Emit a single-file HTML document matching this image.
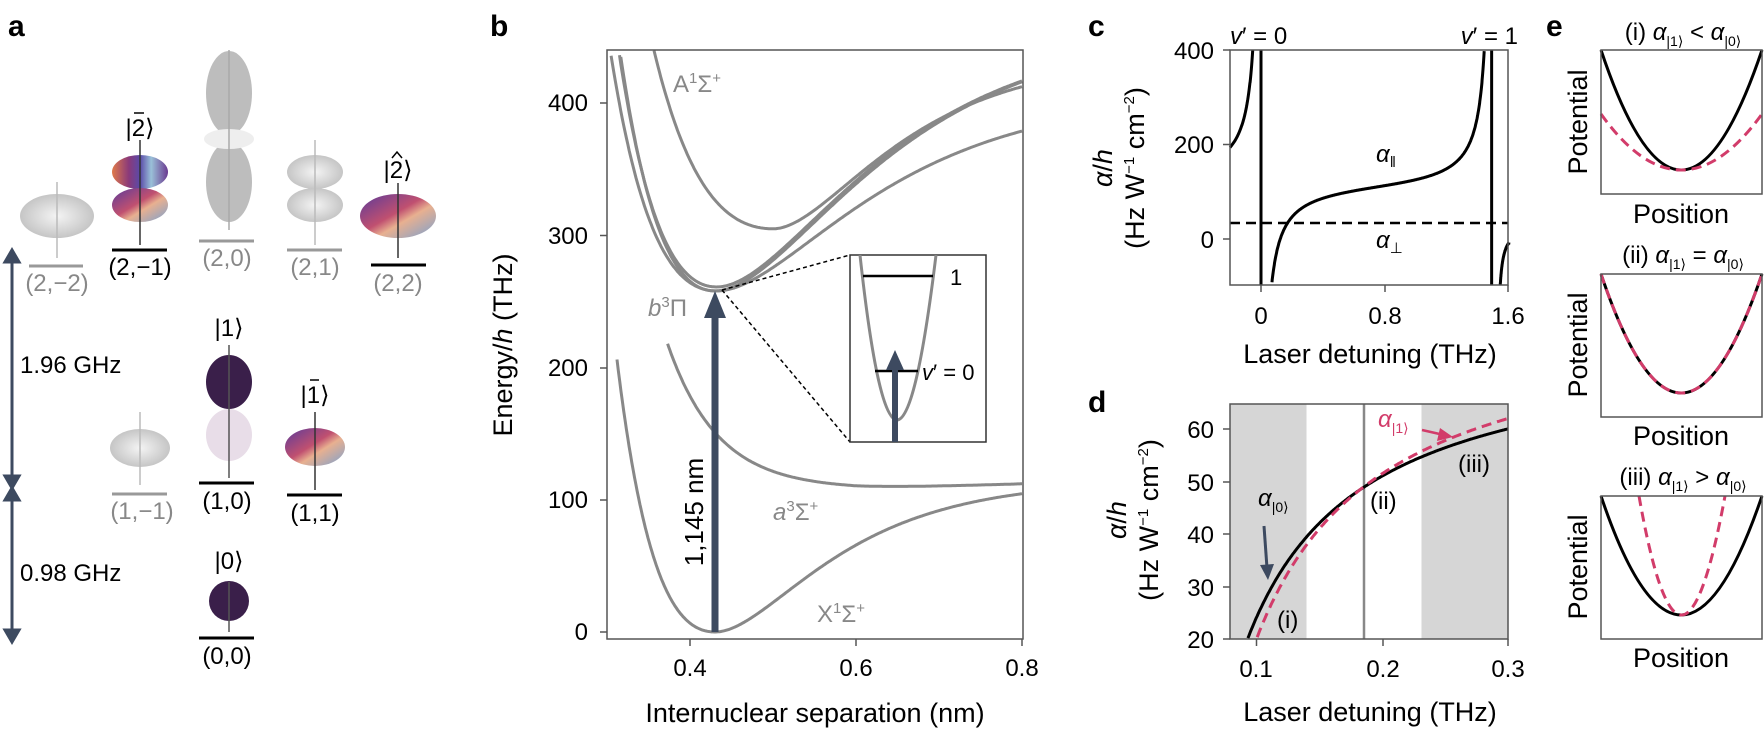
<!DOCTYPE html>
<html><head><meta charset="utf-8"><style>
body{margin:0;background:#fff}
svg{display:block;font-family:"Liberation Sans",sans-serif}
</style></head><body>
<svg id="s" width="1764" height="730" viewBox="0 0 1764 730" xmlns="http://www.w3.org/2000/svg">
<defs>
<linearGradient id="col" x1="0" y1="0" x2="1" y2="0">
<stop offset="0" stop-color="#e07a4a"/><stop offset="0.3" stop-color="#8a3a7a"/><stop offset="0.5" stop-color="#5a4aa8"/><stop offset="0.7" stop-color="#9ac0d8"/><stop offset="1" stop-color="#6a3a90"/></linearGradient>
<linearGradient id="col2" x1="0" y1="0" x2="1" y2="1">
<stop offset="0" stop-color="#5a3a9a"/><stop offset="0.45" stop-color="#c05070"/><stop offset="0.6" stop-color="#e8b090"/><stop offset="1" stop-color="#7aa0d0"/></linearGradient>
<radialGradient id="gr" cx="0.5" cy="0.5" r="0.6"><stop offset="0" stop-color="#f4f4f4"/><stop offset="1" stop-color="#bcbcbc"/></radialGradient>
</defs>
<g font-size="24">
<!-- Panel a -->
<text x="8" y="36" font-size="30" font-weight="bold">a</text>
<g stroke="#3d4a60" stroke-width="3" fill="#3d4a60">
<line x1="12" y1="260" x2="12" y2="478"/><path d="M5,262 L12,250 L19,262 Z"/><path d="M5,476 L12,488 L19,476 Z"/>
<line x1="12" y1="498" x2="12" y2="632"/><path d="M5,500 L12,488 L19,500 Z"/><path d="M5,630 L12,642 L19,630 Z"/>
</g>
<text x="20" y="373">1.96 GHz</text>
<text x="20" y="581">0.98 GHz</text>
<!-- orbitals -->
<ellipse cx="57" cy="216" rx="37" ry="22" fill="url(#gr)"/><line x1="57" y1="182" x2="57" y2="258" stroke="#bbb" stroke-width="1.5"/>
<ellipse cx="140" cy="172" rx="28" ry="17" fill="url(#col)"/><ellipse cx="140" cy="205" rx="28" ry="17" fill="url(#col2)"/><line x1="140" y1="140" x2="140" y2="245" stroke="#333" stroke-width="1.5"/>
<text x="140" y="136" text-anchor="middle">|2⟩</text><line x1="134" y1="113" x2="144" y2="113" stroke="#000" stroke-width="1.5"/>
<ellipse cx="229" cy="93" rx="23" ry="42" fill="#bdbdbd"/><ellipse cx="229" cy="182" rx="23" ry="40" fill="#bdbdbd"/><ellipse cx="229" cy="139" rx="25" ry="10" fill="#eee"/><line x1="229" y1="50" x2="229" y2="230" stroke="#aaa" stroke-width="1.5"/>
<ellipse cx="315" cy="172" rx="28" ry="17" fill="url(#gr)"/><ellipse cx="315" cy="205" rx="28" ry="17" fill="url(#gr)"/><line x1="315" y1="140" x2="315" y2="245" stroke="#bbb" stroke-width="1.5"/>
<ellipse cx="398" cy="216" rx="38" ry="22" fill="url(#col2)"/><line x1="398" y1="183" x2="398" y2="258" stroke="#333" stroke-width="1.5"/>
<text x="398" y="178" text-anchor="middle">|2⟩</text><path d="M392,158 L397,152 L402,158" fill="none" stroke="#000" stroke-width="1.5"/>
<ellipse cx="140" cy="448" rx="30" ry="19" fill="url(#gr)"/><line x1="140" y1="412" x2="140" y2="485" stroke="#bbb" stroke-width="1.5"/>
<ellipse cx="229" cy="382" rx="23" ry="27" fill="#3a1f4a"/><ellipse cx="229" cy="435" rx="23" ry="26" fill="#e8dde8"/><line x1="229" y1="345" x2="229" y2="478" stroke="#555" stroke-width="1.5"/>
<text x="229" y="336" text-anchor="middle">|1⟩</text>
<ellipse cx="315" cy="447" rx="30" ry="19" fill="url(#col2)"/><line x1="315" y1="412" x2="315" y2="490" stroke="#333" stroke-width="1.5"/>
<text x="315" y="403" text-anchor="middle">|1⟩</text><line x1="310" y1="380" x2="319" y2="380" stroke="#000" stroke-width="1.5"/>
<ellipse cx="229" cy="601" rx="20" ry="20" fill="#3a1f4a"/><line x1="229" y1="582" x2="229" y2="632" stroke="#555" stroke-width="1.5"/>
<text x="229" y="569" text-anchor="middle">|0⟩</text>
<!-- levels -->
<g stroke-width="3">
<line x1="29" y1="266" x2="83" y2="266" stroke="#999"/>
<line x1="112" y1="250" x2="167" y2="250" stroke="#000"/>
<line x1="199" y1="241" x2="254" y2="241" stroke="#999"/>
<line x1="287" y1="250" x2="342" y2="250" stroke="#999"/>
<line x1="371" y1="265" x2="426" y2="265" stroke="#000"/>
<line x1="112" y1="494" x2="167" y2="494" stroke="#999"/>
<line x1="199" y1="483" x2="254" y2="483" stroke="#000"/>
<line x1="287" y1="495" x2="342" y2="495" stroke="#000"/>
<line x1="199" y1="638" x2="254" y2="638" stroke="#000"/>
</g>
<g text-anchor="middle">
<text x="57" y="291" fill="#888">(2,−2)</text>
<text x="140" y="275">(2,−1)</text>
<text x="227" y="266" fill="#888">(2,0)</text>
<text x="315" y="275" fill="#888">(2,1)</text>
<text x="398" y="291" fill="#888">(2,2)</text>
<text x="142" y="519" fill="#888">(1,−1)</text>
<text x="227" y="509">(1,0)</text>
<text x="315" y="521">(1,1)</text>
<text x="227" y="664">(0,0)</text>
</g>

<!-- Panel b -->
<text x="490" y="36" font-size="30" font-weight="bold">b</text>
<g id="bcurves" fill="none" stroke="#888" stroke-width="3"></g>
<rect x="607" y="50" width="416" height="589" fill="none" stroke="#555" stroke-width="1.5"/>
<g stroke="#555" stroke-width="1.5">
<line x1="600" y1="103" x2="607" y2="103"/><line x1="600" y1="235.5" x2="607" y2="235.5"/><line x1="600" y1="368" x2="607" y2="368"/><line x1="600" y1="500" x2="607" y2="500"/><line x1="600" y1="632" x2="607" y2="632"/>
<line x1="690" y1="639" x2="690" y2="646"/><line x1="856" y1="639" x2="856" y2="646"/><line x1="1022" y1="639" x2="1022" y2="646"/>
</g>
<g text-anchor="end"><text x="588" y="111">400</text><text x="588" y="244">300</text><text x="588" y="376">200</text><text x="588" y="508">100</text><text x="588" y="640">0</text></g>
<g text-anchor="middle"><text x="690" y="676">0.4</text><text x="856" y="676">0.6</text><text x="1022" y="676">0.8</text></g>
<text x="815" y="722" text-anchor="middle" font-size="27">Internuclear separation (nm)</text>
<text transform="translate(512,345) rotate(-90)" text-anchor="middle" font-size="27">Energy/<tspan font-style="italic">h</tspan> (THz)</text>
<g fill="#888" font-size="24">
<text x="673" y="92">A<tspan font-size="15" dy="-9">1</tspan><tspan dy="9">Σ</tspan><tspan font-size="15" dy="-9">+</tspan></text>
<text x="648" y="316"><tspan font-style="italic">b</tspan><tspan font-size="15" dy="-9">3</tspan><tspan dy="9">Π</tspan></text>
<text x="773" y="520"><tspan font-style="italic">a</tspan><tspan font-size="15" dy="-9">3</tspan><tspan dy="9">Σ</tspan><tspan font-size="15" dy="-9">+</tspan></text>
<text x="817" y="622">X<tspan font-size="15" dy="-9">1</tspan><tspan dy="9">Σ</tspan><tspan font-size="15" dy="-9">+</tspan></text>
</g>
<line x1="715" y1="632" x2="715" y2="310" stroke="#3d4a60" stroke-width="7"/>
<path d="M704,318 L715,291 L726,318 Z" fill="#3d4a60"/>
<text transform="translate(703,512) rotate(-90)" text-anchor="middle" font-size="26">1,145 nm</text>
<g stroke="#000" stroke-width="1.5" stroke-dasharray="4,3"><line x1="722" y1="290" x2="850" y2="255"/><line x1="722" y1="290" x2="850" y2="442"/></g>
<rect x="850" y="255" width="136" height="187" fill="#fff" stroke="#333" stroke-width="1.5"/>
<path d="M860,255 Q896,585 936,255" fill="none" stroke="#888" stroke-width="3"/>
<line x1="863" y1="276" x2="933" y2="276" stroke="#000" stroke-width="2.5"/>
<line x1="875" y1="371" x2="918" y2="371" stroke="#000" stroke-width="2.5"/>
<line x1="895" y1="442" x2="895" y2="365" stroke="#3d4a60" stroke-width="6"/><path d="M886,370 L895,350 L904,370 Z" fill="#3d4a60"/>
<text x="950" y="285" font-size="22">1</text>
<text x="922" y="380" font-size="22"><tspan font-style="italic">v</tspan>′ = 0</text>

<!-- Panel c -->
<text x="1088" y="36" font-size="30" font-weight="bold">c</text>
<g id="ccurves" fill="none" stroke="#000" stroke-width="3"></g>
<line x1="1230" y1="223" x2="1508" y2="223" stroke="#000" stroke-width="2.5" stroke-dasharray="10,6"/>
<rect x="1230" y="50" width="278" height="235" fill="none" stroke="#555" stroke-width="1.5"/>
<g stroke="#555" stroke-width="1.5"><line x1="1223" y1="50" x2="1230" y2="50"/><line x1="1223" y1="144.5" x2="1230" y2="144.5"/><line x1="1223" y1="239" x2="1230" y2="239"/>
<line x1="1261" y1="285" x2="1261" y2="292"/><line x1="1385" y1="285" x2="1385" y2="292"/><line x1="1508" y1="285" x2="1508" y2="292"/></g>
<g text-anchor="end"><text x="1214" y="59">400</text><text x="1214" y="153">200</text><text x="1214" y="248">0</text></g>
<g text-anchor="middle"><text x="1261" y="324">0</text><text x="1385" y="324">0.8</text><text x="1508" y="324">1.6</text></g>
<text x="1370" y="363" text-anchor="middle" font-size="27">Laser detuning (THz)</text>
<text x="1230" y="44"><tspan font-style="italic">v</tspan>′ = 0</text>
<text x="1518" y="44" text-anchor="end"><tspan font-style="italic">v</tspan>′ = 1</text>
<text x="1376" y="162" font-style="italic">α<tspan font-size="15" dy="5" font-style="normal">‖</tspan></text>
<text x="1376" y="248" font-style="italic">α<tspan font-size="15" dy="5" font-style="normal">⊥</tspan></text>
<text transform="translate(1112,168) rotate(-90)" text-anchor="middle" font-size="27"><tspan font-style="italic">α</tspan>/<tspan font-style="italic">h</tspan></text>
<text transform="translate(1144,168) rotate(-90)" text-anchor="middle" font-size="27">(Hz W<tspan font-size="15" dy="-10">−1</tspan><tspan dy="10"> cm</tspan><tspan font-size="15" dy="-10">−2</tspan><tspan dy="10">)</tspan></text>

<!-- Panel d -->
<text x="1088" y="412" font-size="30" font-weight="bold">d</text>
<rect x="1230" y="404" width="76.5" height="235" fill="#d6d6d6"/>
<rect x="1421.5" y="404" width="86.5" height="235" fill="#d6d6d6"/>
<line x1="1364" y1="404" x2="1364" y2="639" stroke="#888" stroke-width="2.5"/>
<g id="dcurves" fill="none" stroke-width="3"></g>
<rect x="1230" y="404" width="278" height="235" fill="none" stroke="#555" stroke-width="1.5"/>
<g stroke="#555" stroke-width="1.5"><line x1="1223" y1="429" x2="1230" y2="429"/><line x1="1223" y1="482" x2="1230" y2="482"/><line x1="1223" y1="534" x2="1230" y2="534"/><line x1="1223" y1="587" x2="1230" y2="587"/><line x1="1223" y1="639" x2="1230" y2="639"/>
<line x1="1256.5" y1="639" x2="1256.5" y2="646"/><line x1="1383" y1="639" x2="1383" y2="646"/><line x1="1508" y1="639" x2="1508" y2="646"/></g>
<g text-anchor="end"><text x="1214" y="438">60</text><text x="1214" y="491">50</text><text x="1214" y="543">40</text><text x="1214" y="596">30</text><text x="1214" y="648">20</text></g>
<g text-anchor="middle"><text x="1256" y="677">0.1</text><text x="1383" y="677">0.2</text><text x="1508" y="677">0.3</text></g>
<text x="1370" y="721" text-anchor="middle" font-size="27">Laser detuning (THz)</text>
<text transform="translate(1126,520) rotate(-90)" text-anchor="middle" font-size="27"><tspan font-style="italic">α</tspan>/<tspan font-style="italic">h</tspan></text>
<text transform="translate(1158,520) rotate(-90)" text-anchor="middle" font-size="27">(Hz W<tspan font-size="15" dy="-10">−1</tspan><tspan dy="10"> cm</tspan><tspan font-size="15" dy="-10">−2</tspan><tspan dy="10">)</tspan></text>
<text x="1378" y="427" fill="#d23c6a" font-style="italic">α<tspan font-size="14" dy="6" font-style="normal">|1⟩</tspan></text>
<line x1="1422" y1="430" x2="1444" y2="435" stroke="#d23c6a" stroke-width="2.5"/><path d="M1440,428 L1453,437 L1437,441 Z" fill="#d23c6a"/>
<text x="1258" y="506" font-style="italic">α<tspan font-size="14" dy="6" font-style="normal">|0⟩</tspan></text>
<line x1="1264" y1="526" x2="1267" y2="568" stroke="#3d4a60" stroke-width="3"/><path d="M1260,565 L1268,580 L1274,564 Z" fill="#3d4a60"/>
<text x="1458" y="472">(iii)</text>
<text x="1370" y="509">(ii)</text>
<text x="1277" y="628">(i)</text>

<!-- Panel e -->
<text x="1546" y="36" font-size="30" font-weight="bold">e</text>
<g font-size="24" text-anchor="middle">
<text x="1683" y="40">(i) <tspan font-style="italic">α</tspan><tspan font-size="14" dy="6">|1⟩</tspan><tspan dy="-6"> &lt; </tspan><tspan font-style="italic">α</tspan><tspan font-size="14" dy="6">|0⟩</tspan></text>
<text x="1683" y="263">(ii) <tspan font-style="italic">α</tspan><tspan font-size="14" dy="6">|1⟩</tspan><tspan dy="-6"> = </tspan><tspan font-style="italic">α</tspan><tspan font-size="14" dy="6">|0⟩</tspan></text>
<text x="1683" y="485">(iii) <tspan font-style="italic">α</tspan><tspan font-size="14" dy="6">|1⟩</tspan><tspan dy="-6"> &gt; </tspan><tspan font-style="italic">α</tspan><tspan font-size="14" dy="6">|0⟩</tspan></text>
</g>
<g font-size="27" text-anchor="middle">
<text x="1681" y="223">Position</text><text x="1681" y="445">Position</text><text x="1681" y="667">Position</text>
<text transform="translate(1587,122) rotate(-90)">Potential</text>
<text transform="translate(1587,345) rotate(-90)">Potential</text>
<text transform="translate(1587,567) rotate(-90)">Potential</text>
</g>
<g fill="none" stroke-width="3">
<path d="M1601,50 Q1681,290 1762,50" stroke="#000"/>
<path d="M1601,114 Q1681,226 1762,114" stroke="#d23c6a" stroke-dasharray="10,6"/>
<path d="M1601,274 Q1681,512 1762,274" stroke="#000"/>
<path d="M1601,274 Q1681,512 1762,274" stroke="#d23c6a" stroke-dasharray="10,6"/>
<path d="M1601,496 Q1681,734 1762,496" stroke="#000"/>
<path d="M1639,496 Q1681,734 1725,496" stroke="#d23c6a" stroke-dasharray="10,6"/>
</g>
<g fill="none" stroke="#555" stroke-width="1.5">
<rect x="1601" y="50" width="161" height="144"/><rect x="1601" y="274" width="161" height="143"/><rect x="1601" y="496" width="161" height="143"/>
</g>
</g>
</svg>
<script>
(function(){
var NS="http://www.w3.org/2000/svg";
function add(g,d,attrs){var p=document.createElementNS(NS,"path");p.setAttribute("d",d);for(var k in attrs)p.setAttribute(k,attrs[k]);g.appendChild(p);}
function path(f,a,b,X,Y,n,lo,hi){var s="",first=true;for(var i=0;i<=n;i++){var r=a+(b-a)*i/n,v=f(r);if(v>hi||v<lo||!isFinite(v)){first=true;continue;}s+=(first?"M":"L")+X(r).toFixed(1)+","+Y(v).toFixed(1);first=false;}return s;}
var gb=document.getElementById("bcurves");
var bx=function(r){return 690+(r-0.4)*830},by=function(E){return 632-1.322*E};
function morse(re,D,aL,aR,E0){return function(r){var a=r<re?aL:aR;var t=1-Math.exp(-a*(r-re));return E0+D*t*t;}}
var X=morse(0.43,115,7.2,8.3,0);
add(gb,path(X,0.312,0.8,bx,by,300,-5,225),{});
var A3=function(r){return 108+110*Math.exp(-16.5*(r-0.373))+ (r>0.6?4*(r-0.6)/0.2:0);};
add(gb,path(A3,0.373,0.8,bx,by,300,0,230),{});
add(gb,path(morse(0.43,200,5.85,5.95,258),0.3,0.8,bx,by,300,0,440),{});
add(gb,path(morse(0.432,195,5.7,6.1,261),0.3,0.8,bx,by,300,0,440),{});
add(gb,path(morse(0.432,150,5.8,6.2,258),0.3,0.8,bx,by,300,0,440),{});
add(gb,path(morse(0.5,130,4.9,8,305),0.3,0.8,bx,by,300,0,440),{});
var gc=document.getElementById("ccurves");
var cx=function(d){return 1261+155*d},cy=function(v){return 239-0.4725*v};
var al=function(d){return 110-15/d+15/(1.49-d)};
add(gc,path(al,-0.2,-0.004,cx,cy,300,-97,400),{});
add(gc,path(al,0.004,1.486,cx,cy,800,-97,400),{});
add(gc,path(function(d){return 30-3/(d-1.52)},1.525,1.6,cx,cy,200,-97,400),{});
add(gc,"M"+cx(0)+",50 L"+cx(0)+",285",{});
add(gc,"M"+cx(1.488)+",50 L"+cx(1.488)+",285",{});
var gd=document.getElementById("dcurves");
var dx=function(d){return 1256.5+1258*(d-0.1)},dy=function(v){return 639-5.25*(v-20)};
add(gd,path(function(d){return 78-5.39/d},0.08,0.3,dx,dy,300,20,65),{stroke:"#000"});
add(gd,path(function(d){return 83-6.3/d},0.08,0.3,dx,dy,300,20,65),{stroke:"#d23c6a","stroke-dasharray":"10,6"});
})();
</script>
</body></html>
